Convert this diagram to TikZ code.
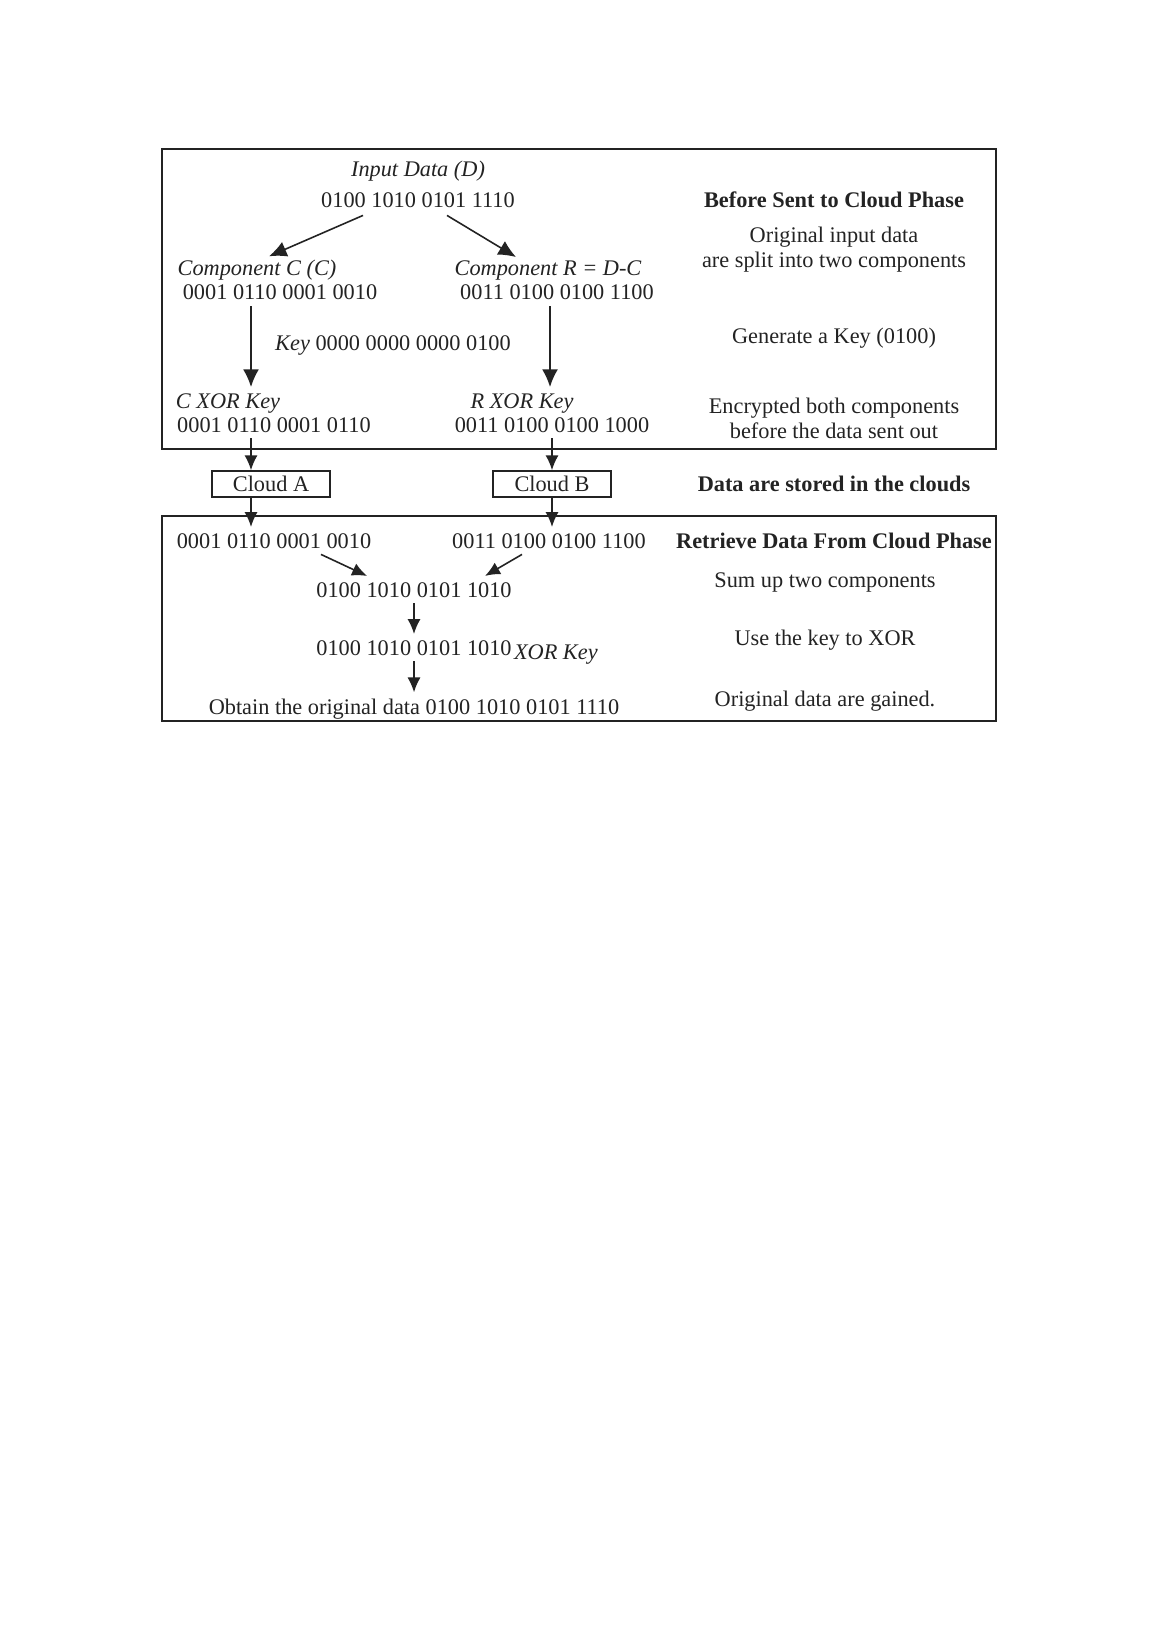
\documentclass[tikz,border=0pt]{standalone}
\usepackage{fontspec}
\setmainfont{Liberation Serif}
\usetikzlibrary{arrows.meta,positioning,calc}
\definecolor{inkgray}{RGB}{35,35,35}
\tikzset{
  scheme/.style={x=0.02cm,y=-0.02cm,font=\fontsize{12.7}{14.2}\selectfont,>=Latex},
  txt/.style={text=inkgray,align=center,anchor=base},
  lbl/.style={txt,font=\fontsize{12.7}{14.2}\selectfont\itshape},
  phase/.style={txt,font=\fontsize{12.7}{14.2}\selectfont\bfseries},
  note/.style={txt,anchor=center},
  cloud/.style={draw=inkgray,line width=0.9pt,text=inkgray,inner sep=0pt,minimum width=2.36cm,minimum height=0.52cm},
  frame/.style={draw=inkgray,line width=1.1pt},
  flow/.style={-{Latex[length=10pt,width=9pt]},line width=0.9pt,draw=inkgray},
  hop/.style={-{Latex[length=8.5pt,width=7.5pt]},line width=0.9pt,draw=inkgray},
}
\begin{document}
\begin{tikzpicture}[scheme]
\path[use as bounding box,fill=white] (0,0) rectangle (1158,1638);
% phase frames
\draw[frame] (162,149) rectangle (996,449);
\draw[frame] (162,516) rectangle (996,721);
\coordinate (colA) at (251,0);
\coordinate (colB) at (550,0);
% before sent to cloud
\node[lbl] (inD) at (418,177) {Input Data (D)};
\node[txt] (dval) at (418,208) {0100 1010 0101 1110};
\node[lbl] (compC) at (257,276) {Component C (C)};
\node[txt] (cval) at (280,300) {0001 0110 0001 0010};
\node[lbl] (compR) at (548,276) {Component R = D-C};
\node[txt] (rval) at (557,300) {0011 0100 0100 1100};
\node[txt] (key) at (393,351) {\textit{Key} 0000 0000 0000 0100};
\node[lbl] (cxl) at (228,408) {C XOR Key};
\node[txt] (cxor) at (274,432) {0001 0110 0001 0110};
\node[lbl] (rxl) at (522,408) {R XOR Key};
\node[txt] (rxor) at (552,432) {0011 0100 0100 1000};
\draw[flow] ($(dval.south)+(-55,1)$) -- ($(compC.north)+(12,2)$);
\draw[flow] ($(dval.south)+(29,1)$) -- ($(compR.north)+(-32,2)$);
\draw[flow] (cval.south -| colA) -- (cxl.north -| colA);
\draw[flow] (rval.south -| colB) -- (rxl.north -| colB);
% clouds
\node[cloud] (cloudA) at (271,484) {Cloud A};
\node[cloud] (cloudB) at (552,484) {Cloud B};
\draw[hop] (cxor.south -| colA) -- (cloudA.north -| colA);
\draw[hop] (rxor.south -| cloudB) -- (cloudB.north);
% retrieve from cloud
\node[txt] (backA) at (274,548) {0001 0110 0001 0010};
\node[txt] (backB) at (549,548) {0011 0100 0100 1100};
\draw[hop] (cloudA.south -| colA) -- (backA.north -| colA);
\draw[hop] (cloudB.south) -- (backB.north -| cloudB);
\node[txt] (sum) at (414,597) {0100 1010 0101 1010};
\node[txt] (xr) at (414,655) {0100 1010 0101 1010};
\node[lbl,anchor=base west] (xk) at ($(xr.base east)+(-10,4)$) {XOR Key};
\node[txt] (res) at (414,714) {Obtain the original data 0100 1010 0101 1110};
\draw[hop] ($(backA.south)+(47,0)$) -- ($(sum.north)+(-47,0)$);
\draw[hop] ($(backB.south)+(-27,0)$) -- ($(sum.north)+(71,0)$);
\draw[hop] (sum) -- (xr);
\draw[hop] (xr) -- (res);
% phase notes
\node[phase] (ph1) at (834,208) {Before Sent to Cloud Phase};
\node[note] (n1) at (834,250) {Original input data\\are split into two components};
\node[note] (n2) at (834,338) {Generate a Key (0100)};
\node[note] (n3) at (834,418) {Encrypted both components\\before the data sent out};
\node[phase] (ph2) at (834,491) {Data are stored in the clouds};
\node[phase] (ph3) at (834,548) {Retrieve Data From Cloud Phase};
\node[note] (n4) at (825,582) {Sum up two components};
\node[note] (n5) at (825,640) {Use the key to XOR};
\node[note] (n6) at (825,701) {Original data are gained.};
\end{tikzpicture}
\end{document}
